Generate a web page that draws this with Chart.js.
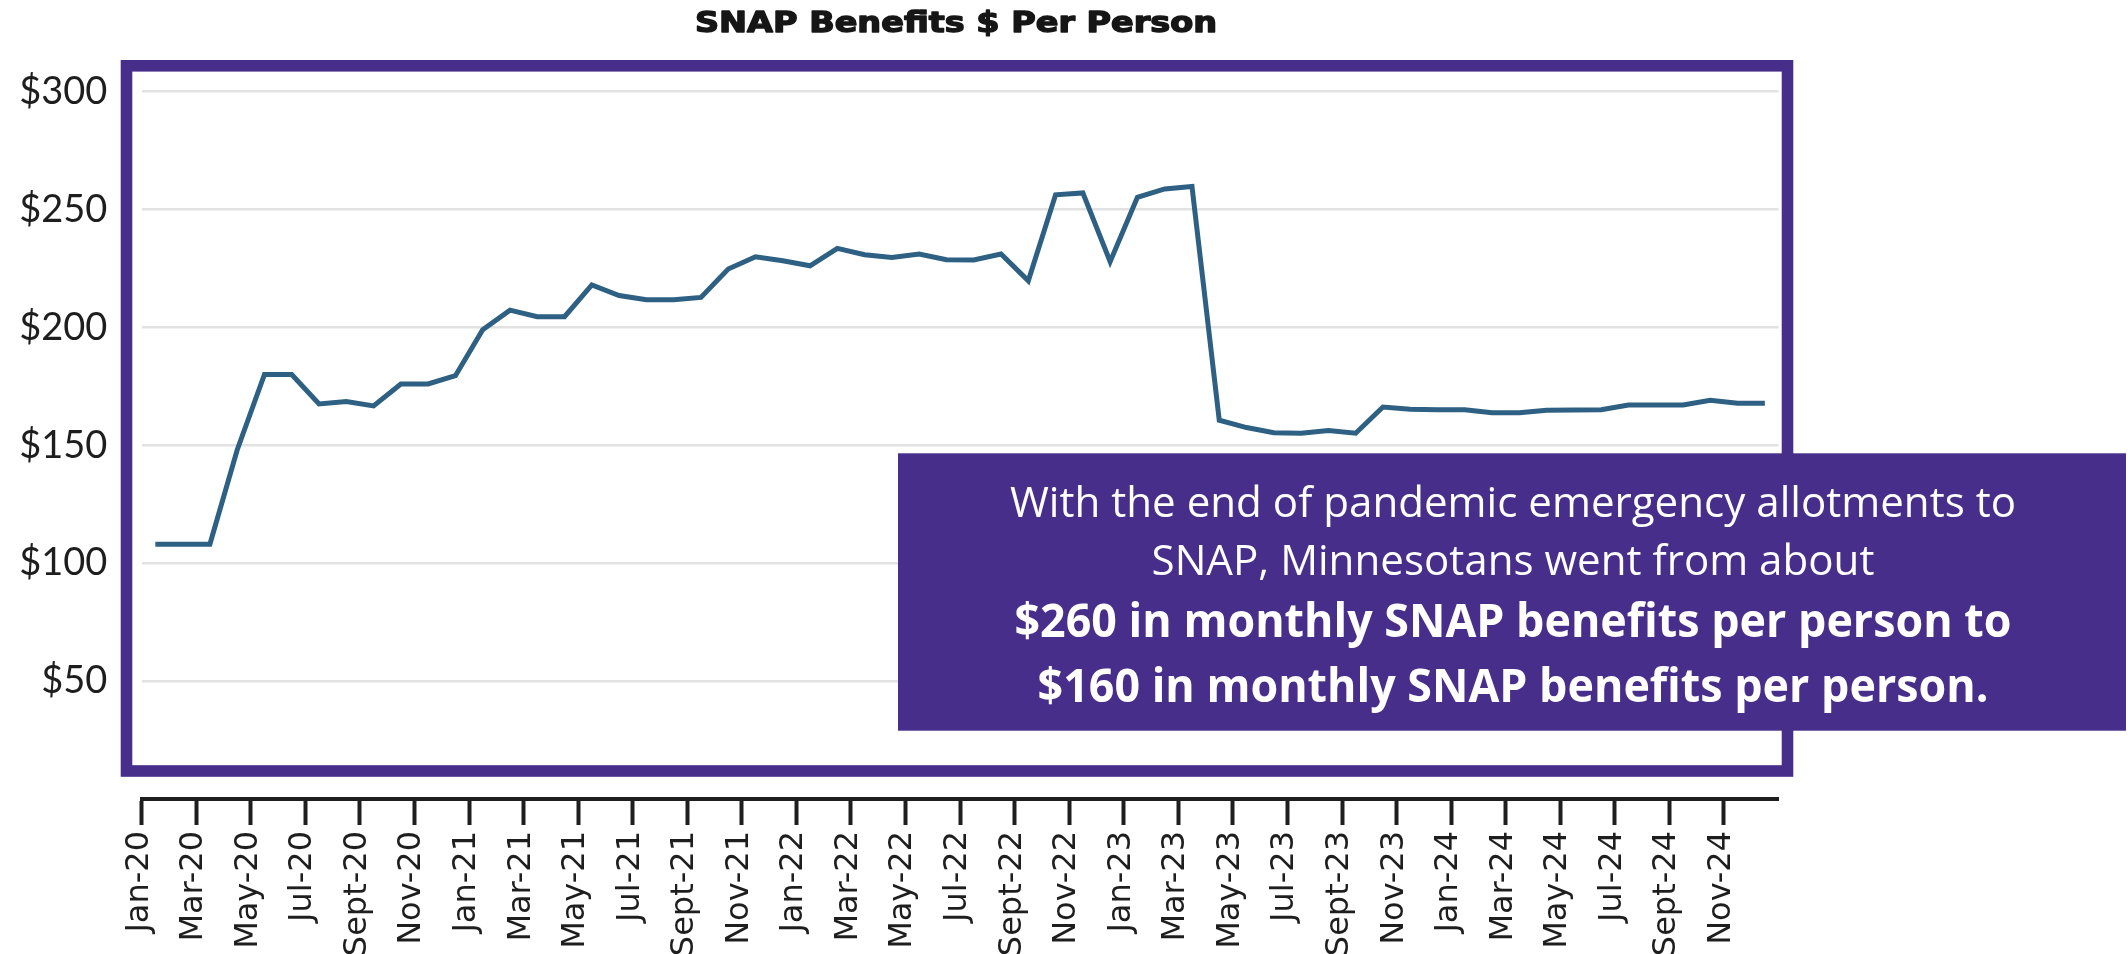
<!DOCTYPE html>
<html>
<head>
<meta charset="utf-8">
<script src="https://cdn.jsdelivr.net/npm/chart.js"></script>
<style>
    html, body { margin: 0; padding: 0; background: #fff; }
</style>
</head>
<body>
<canvas id="myChart" width="2128" height="954"></canvas>
<script>
// =============================================
//
// SNAP benefits per person, monthly 2020-2024
//
// =============================================

const monthNames = ["Jan", "Feb", "Mar", "Apr", "May", "Jun", "Jul", "Aug", "Sept", "Oct", "Nov", "Dec"];
const years = ["20", "21", "22", "23", "24"];
const monthLabels = years.flatMap((y) => monthNames.map((m) => m + "-" + y));

const benefits2020 = [108, 108, 108, 148, 180, 180, 167.5, 168.5, 166.7, 176, 176, 179.5];
const benefits2021 = [199, 207.3, 204.5, 204.5, 218, 213.5, 211.7, 211.7, 212.7, 224.7, 229.9, 228.2];
const benefits2022 = [226.1, 233.5, 230.8, 229.6, 231.1, 228.7, 228.6, 231.1, 219.7, 256.2, 257, 227.8];
const benefits2023 = [255.1, 258.7, 259.7, 160.6, 157.5, 155.3, 155.1, 156.3, 155.1, 166.2, 165.3, 165.1];
const benefits2024 = [165.1, 163.8, 163.8, 164.8, 164.9, 165.1, 167.1, 167.1, 167.1, 169.1, 167.8, 167.8];
const benefitsPerPerson = [...benefits2020, ...benefits2021, ...benefits2022, ...benefits2023, ...benefits2024];

const yTickValues = [50, 100, 150, 200, 250, 300];

const chartTitle = "SNAP Benefits $ Per Person";
const noteLines = [
    "With the end of pandemic emergency allotments to",
    "SNAP, Minnesotans went from about",
    "$260 in monthly SNAP benefits per person to",
    "$160 in monthly SNAP benefits per person.",
];

const PURPLE = "#472e8a";
const INK = "#1e1e1e";

// text squeezed / stretched horizontally so it takes the width of the original
function drawScaledText(ctx, text, cx, baseline, font, scaleX, strokeW) {
    ctx.save();
    ctx.font = font;
    ctx.translate(cx, baseline);
    ctx.scale(scaleX, 1);
    ctx.textAlign = "center";
    ctx.textBaseline = "alphabetic";
    ctx.fillText(text, 0, 0);
    if (strokeW) {
        ctx.strokeStyle = ctx.fillStyle;
        ctx.lineWidth = strokeW;
        ctx.lineJoin = "round";
        ctx.strokeText(text, 0, 0);
    }
    ctx.restore();
}

function widthScale(ctx, text, font, target) {
    ctx.save();
    ctx.font = font;
    const w = ctx.measureText(text).width;
    ctx.restore();
    return target / w;
}

const overlayPlugin = {
    id: "overlay",
    afterDraw(chart) {
        const ctx = chart.ctx;

        // title (heavier than DejaVu bold, so a thin stroke on top)
        const titleFont = 'bold 28px "DejaVu Sans"';
        ctx.fillStyle = "#161616";
        drawScaledText(ctx, chartTitle, 956, 31.5, titleFont,
            widthScale(ctx, chartTitle, titleFont, 522), 1.4);

        // purple frame round the plot
        ctx.save();
        ctx.strokeStyle = PURPLE;
        ctx.lineWidth = 11.6;
        ctx.strokeRect(126.5, 65.8, 1661, 705.2);
        ctx.restore();

        // note box
        ctx.save();
        ctx.fillStyle = PURPLE;
        ctx.fillRect(898, 453.3, 1228, 277.4);
        ctx.restore();

        const regFont = '42px "Open Sans"';
        const boldFont = 'bold 47px "Open Sans"';
        const regScale = widthScale(ctx, noteLines[0], regFont, 1006);
        const boldScale = widthScale(ctx, noteLines[2], boldFont, 997);
        ctx.fillStyle = "#ffffff";
        drawScaledText(ctx, noteLines[0], 1513, 516.7, regFont, regScale);
        drawScaledText(ctx, noteLines[1], 1513, 575, regFont, regScale);
        drawScaledText(ctx, noteLines[2], 1513, 637.3, boldFont, boldScale);
        drawScaledText(ctx, noteLines[3], 1513, 701.7, boldFont, boldScale);
    },
};

const config = {
    type: "line",
    data: {
        labels: monthLabels,
        datasets: [
            {
                label: "SNAP benefits per person",
                data: benefitsPerPerson,
                borderColor: "#2d6082",
                borderWidth: 5,
                pointRadius: 0,
                tension: 0,
                fill: false,
            },
        ],
    },
    options: {
        responsive: false,
        devicePixelRatio: 1,
        animation: false,
        layout: { padding: { top: 75, right: 349.5, bottom: 0, left: 0 } },
        plugins: {
            legend: { display: false },
            tooltip: { enabled: false },
            title: { display: false },
        },
        scales: {
            x: {
                type: "category",
                offset: true,
                grid: {
                    offset: true,
                    drawOnChartArea: false,
                    drawTicks: true,
                    tickLength: 26,
                    tickWidth: 4,
                    tickColor: (c) =>
                        c.index % 2 === 0 && c.index < monthLabels.length ? INK : "rgba(0,0,0,0)",
                },
                border: { display: true, color: INK, width: 4 },
                ticks: {
                    autoSkip: false,
                    minRotation: 90,
                    maxRotation: 90,
                    padding: 6,
                    labelOffset: -16,
                    color: INK,
                    font: { family: "DejaVu Sans", size: 32 },
                    callback: function (v, i) {
                        return i % 2 === 0 ? this.getLabelForValue(v) : "";
                    },
                },
                afterFit: (s) => {
                    s.height = 155;
                },
            },
            y: {
                min: 0,
                max: 307,
                afterBuildTicks: (axis) => {
                    axis.ticks = yTickValues.map((v) => ({ value: v }));
                },
                grid: { color: "#e2e2e2", lineWidth: 2.5, drawTicks: false },
                border: { display: false },
                ticks: {
                    padding: 34.4,
                    color: INK,
                    font: { family: "Lato", size: 38 },
                    callback: (v) => "$" + v,
                },
                afterFit: (s) => {
                    s.width = 141.7;
                },
            },
        },
    },
    plugins: [overlayPlugin],
};

const myChart = new Chart(document.getElementById("myChart"), config);
</script>
</body>
</html>
